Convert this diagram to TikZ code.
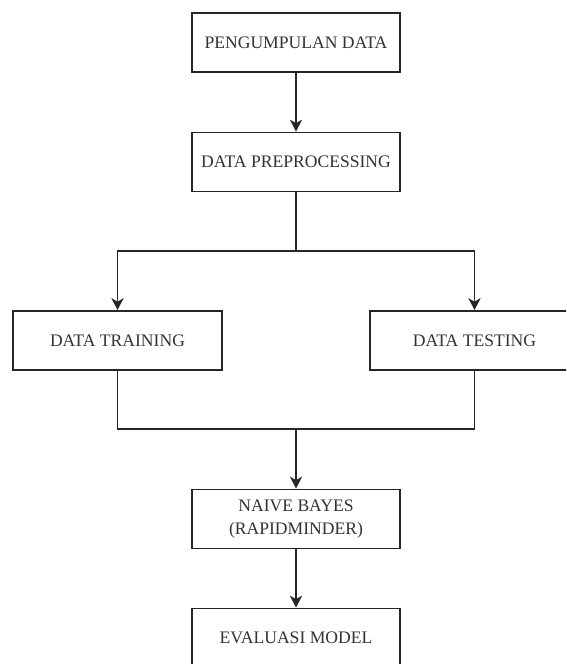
\documentclass[tikz,border=0pt]{standalone}
\usepackage{fontspec}
\setmainfont{Liberation Serif}
\usetikzlibrary{arrows.meta}
\begin{document}
\begin{tikzpicture}[x=1pt,y=-1pt,
  proc/.style={draw=black!85, line width=1.6pt, fill=white, rectangle,
    minimum width=208pt, minimum height=59pt, inner sep=0pt,
    align=center, font=\fontsize{17.6}{22.5}\selectfont, text=black!80},
  link/.style={draw=black!85, line width=1.6pt},
  flow/.style={link, -{Stealth[length=12pt,width=12pt,inset=3.5pt]}}]
  \useasboundingbox (0,0) rectangle (566,664);
  \clip (0,0) rectangle (566,664);
  \fill[white] (0,0) rectangle (566,664);

  % process boxes
  \node[proc] (collect) at (296,42.5) {PENGUMPULAN DATA};
  \node[proc] (prep)    at (296,162)  {DATA PREPROCESSING};
  \node[proc, minimum width=209pt] (train) at (117.5,340.5) {DATA TRAINING};
  \node[proc, minimum width=209pt] (test)  at (474.5,340.5) {DATA TESTING};
  \node[proc] (nb)      at (296,519)  {NAIVE BAYES\\(RAPIDMINDER)};
  \node[proc] (eval)    at (296,638)  {EVALUASI MODEL};

  % junction points of the split and merge lines
  \coordinate (split) at (296,251);
  \coordinate (merge) at (296,429);

  % connectors
  \draw[flow] (collect.south) -- (prep.north);
  \draw[link] (prep.south) -- (split);
  \draw[flow] (split) -| (train.north);
  \draw[flow] (split) -| (test.north);
  \draw[link] (train.south) |- (merge);
  \draw[link] (test.south) |- (merge);
  \draw[flow] (merge) -- (nb.north);
  \draw[flow] (nb.south) -- (eval.north);
\end{tikzpicture}
\end{document}
